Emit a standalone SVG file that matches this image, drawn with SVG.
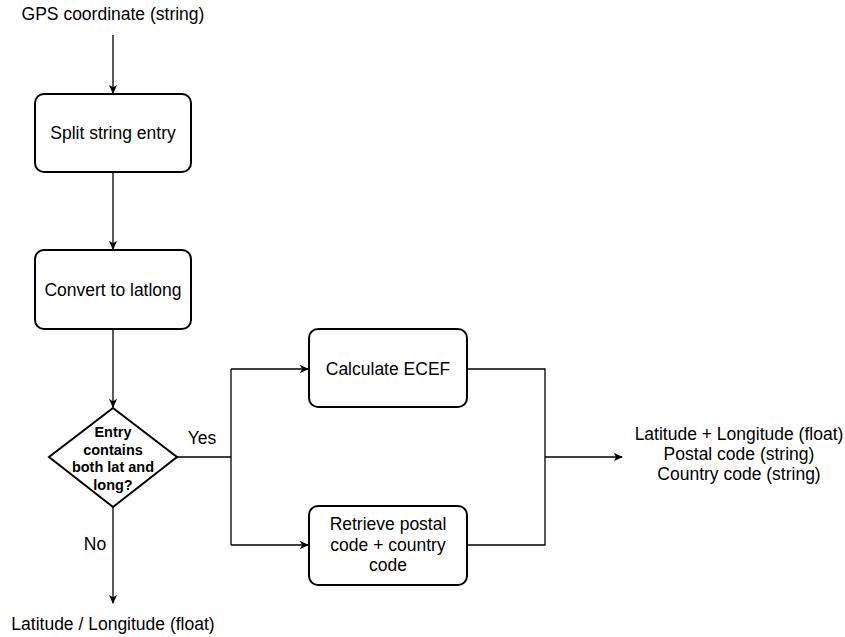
<svg xmlns="http://www.w3.org/2000/svg" width="845" height="637" viewBox="0 0 845 637">
  <style>
    .box { fill: #ffffff; stroke: #000000; stroke-width: 2; }
    .edge { fill: none; stroke: #000000; stroke-width: 1.3; }
    .lbl { font-family: "Liberation Sans", Arial, sans-serif; font-size: 17.5px; fill: #000000; text-anchor: middle; }
    .cond { font-family: "Liberation Sans", Arial, sans-serif; font-size: 14.5px; font-weight: bold; fill: #000000; text-anchor: middle; }
  </style>
  <defs>
    <marker id="arrow" viewBox="0 0 10 10" refX="9" refY="5" markerWidth="9" markerHeight="9" markerUnits="userSpaceOnUse" orient="auto">
      <path d="M0,0.5 L10,5 L0,9.5 L2.5,5 Z" fill="#000000"/>
    </marker>
  </defs>
  <rect width="845" height="637" fill="#ffffff"/>

  <g id="connectors">
    <path class="edge" d="M113,35 V93" marker-end="url(#arrow)"/>
    <path class="edge" d="M113,172 V249" marker-end="url(#arrow)"/>
    <path class="edge" d="M113,329 V407" marker-end="url(#arrow)"/>
    <path class="edge" d="M177,457 H231"/>
    <path class="edge" d="M231,369 V545"/>
    <path class="edge" d="M231,369 H308" marker-end="url(#arrow)"/>
    <path class="edge" d="M231,545 H308" marker-end="url(#arrow)"/>
    <path class="edge" d="M467,369 H545 V545 H467"/>
    <path class="edge" d="M545,457 H622" marker-end="url(#arrow)"/>
    <path class="edge" d="M113,507 V603" marker-end="url(#arrow)"/>
    <text class="lbl" x="202" y="444">Yes</text>
    <text class="lbl" x="95" y="550">No</text>
  </g>

  <g id="input">
    <text class="lbl" x="113" y="20">GPS coordinate (string)</text>
  </g>

  <g id="split">
    <rect class="box" x="35" y="94" width="156" height="78" rx="9"/>
    <text class="lbl" x="113" y="139">Split string entry</text>
  </g>

  <g id="convert">
    <rect class="box" x="35" y="250" width="156" height="79" rx="9"/>
    <text class="lbl" x="113" y="296">Convert to latlong</text>
  </g>

  <g id="decision">
    <polygon class="box" points="113,408 177,457 113,507 49,457"/>
    <text class="cond" x="113" y="437">Entry</text>
    <text class="cond" x="113" y="455">contains</text>
    <text class="cond" x="113" y="472">both lat and</text>
    <text class="cond" x="113" y="490">long?</text>
  </g>

  <g id="ecef">
    <rect class="box" x="309" y="329" width="158" height="78" rx="9"/>
    <text class="lbl" x="388" y="375">Calculate ECEF</text>
  </g>

  <g id="postal">
    <rect class="box" x="309" y="506" width="158" height="79" rx="9"/>
    <text class="lbl" x="388" y="530">Retrieve postal</text>
    <text class="lbl" x="388" y="551">code + country</text>
    <text class="lbl" x="388" y="571">code</text>
  </g>

  <g id="output-full">
    <text class="lbl" x="739" y="440">Latitude + Longitude (float)</text>
    <text class="lbl" x="739" y="460">Postal code (string)</text>
    <text class="lbl" x="739" y="480">Country code (string)</text>
  </g>

  <g id="output-latlong">
    <text class="lbl" x="113" y="630">Latitude / Longitude (float)</text>
  </g>
</svg>
